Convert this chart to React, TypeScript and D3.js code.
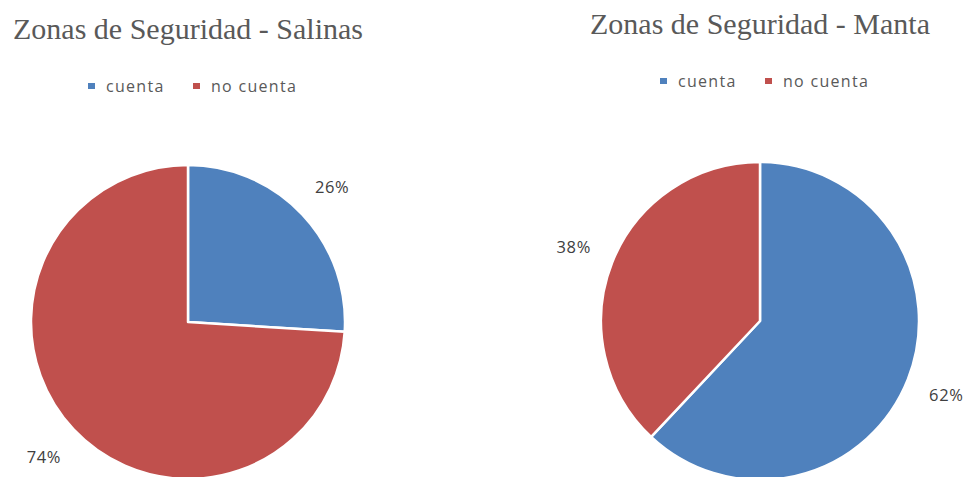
import React from "react";
import * as d3 from "d3";

const categories = ["cuenta", "no cuenta"];
const salinasValues = [26, 74];
const mantaValues = [62, 38];
const titles = ["Zonas de Seguridad - Salinas", "Zonas de Seguridad - Manta"];
const colors = ["#4F81BD", "#C0504D"];

type PieProps = {
  values: number[];
  title: string;
  cx: number;
  cy: number;
  r: number;
  titleX: number;
  titleY: number;
  legendX: number;
  legendY: number;
};

function Pie({ values, title, cx, cy, r, titleX, titleY, legendX, legendY }: PieProps) {
  const pie = d3.pie<number>().sort(null).value((d) => d);
  const arcs = pie(values);
  const arc = d3.arc<d3.PieArcDatum<number>>().innerRadius(0).outerRadius(r);
  const labelArc = d3.arc<d3.PieArcDatum<number>>().innerRadius(r * 1.26).outerRadius(r * 1.26);
  const total = d3.sum(values);
  const legendOffsets = [0, 105];
  return (
    <g>
      <text x={titleX} y={titleY} textAnchor="middle" fontFamily="'Liberation Serif', serif" fontSize={30} fill="#595959">
        {title}
      </text>
      {categories.map((c, i) => (
        <g key={c} transform={`translate(${legendX + legendOffsets[i]},${legendY})`}>
          <rect x={0} y={-9} width={7} height={6} fill={colors[i]} />
          <text x={18} y={0} fontFamily="'Open Sans', sans-serif" fontSize={16} letterSpacing={1.3} fill="#595959">
            {c}
          </text>
        </g>
      ))}
      <g transform={`translate(${cx},${cy})`}>
        {arcs.map((a, i) => (
          <path key={i} d={arc(a) || ""} fill={colors[i]} stroke="#fff" strokeWidth={2.5} strokeLinejoin="round" />
        ))}
        {arcs.map((a, i) => {
          const [x, y] = labelArc.centroid(a);
          return (
            <text key={"l" + i} x={x} y={y} dy="0.36em" textAnchor="middle" fontFamily="'Open Sans', sans-serif" fontSize={16.5} letterSpacing={0.6} fill="#404040">
              {`${Math.round((a.data / total) * 100)}%`}
            </text>
          );
        })}
      </g>
    </g>
  );
}

export default function App() {
  return (
    <svg width={966} height={477} style={{ position: "absolute", left: 0, top: 0, background: "#fff" }}>
      <rect width={966} height={477} fill="#fff" />
      <Pie values={salinasValues} title={titles[0]} cx={188} cy={322} r={157} titleX={188} titleY={39} legendX={88} legendY={92} />
      <Pie values={mantaValues} title={titles[1]} cx={760} cy={321} r={159} titleX={760} titleY={34} legendX={660} legendY={87} />
    </svg>
  );
}
